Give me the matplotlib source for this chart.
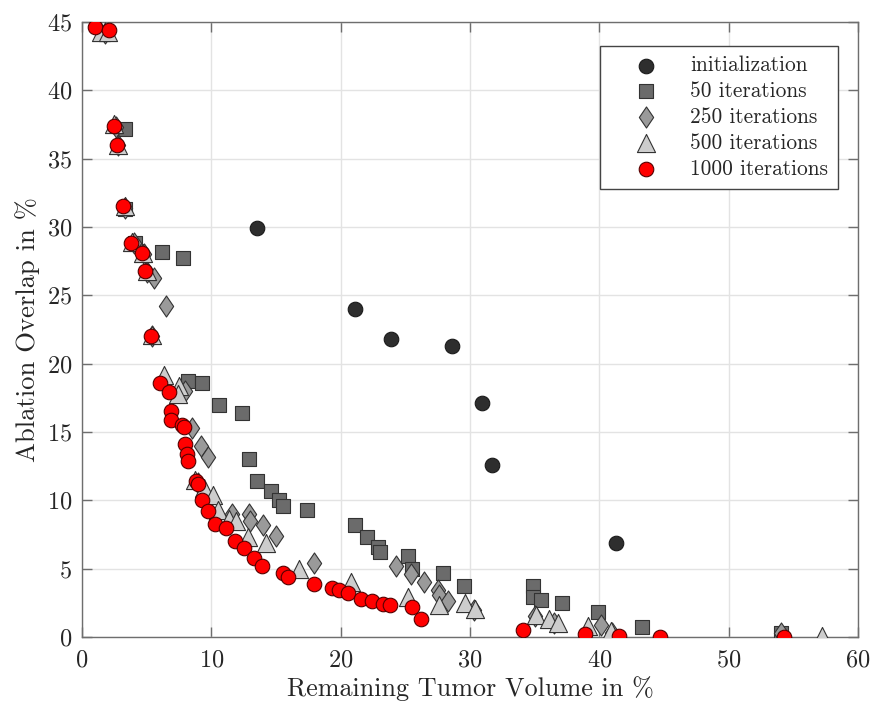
import matplotlib
matplotlib.use("Agg")
import matplotlib.pyplot as plt
from matplotlib.path import Path

plt.rcParams['font.family'] = ['cmr10', 'DejaVu Serif']
plt.rcParams['axes.formatter.use_mathtext'] = True
plt.rcParams['mathtext.fontset'] = 'cm'

# Remaining tumor volume (%) and ablation overlap (%) per optimisation stage
init_x = [13.5, 21.1, 23.9, 28.6, 30.9, 31.7, 41.3]
init_y = [29.9, 24.0, 21.8, 21.3, 17.1, 12.6, 6.9]

it50_x = [1.8, 3.3, 3.3, 4.1, 6.2, 7.8, 8.2, 9.3, 10.6, 12.4, 12.9, 13.5, 14.6, 15.25,
          15.5, 17.4, 21.1, 22.0, 22.9, 23.0, 25.2, 25.5, 27.9, 29.5, 34.9, 34.9,
          35.5, 37.1, 39.9, 43.3, 54.0]
it50_y = [44.2, 37.2, 31.3, 28.8, 28.2, 27.7, 18.7, 18.6, 17.0, 16.4, 13.0, 11.4, 10.7,
          10.0, 9.6, 9.3, 8.2, 7.35, 6.6, 6.2, 5.9, 5.0, 4.7, 3.75, 3.7, 2.9,
          2.7, 2.5, 1.8, 0.7, 0.3]

it250_x = [1.8, 2.6, 2.8, 3.3, 4.0, 4.8, 5.0, 5.6, 6.5, 5.4, 8.0, 8.5, 9.2, 9.75, 9.0,
           11.6, 12.9, 13.0, 14.0, 15.0, 17.9, 24.3, 25.4, 26.4, 27.5, 27.6, 28.3,
           30.3, 35.0, 36.5, 40.1, 41.0, 54.0]
it250_y = [44.2, 37.3, 36.0, 31.4, 28.8, 28.0, 26.7, 26.3, 24.2, 22.0, 18.0, 15.3, 14.0,
           13.2, 11.3, 9.0, 9.0, 8.5, 8.2, 7.4, 5.4, 5.2, 4.6, 4.0, 3.4, 3.1, 2.6,
           2.0, 1.5, 1.0, 0.9, 0.3, 0.3]

it500_x = [1.5, 2.0, 2.5, 2.8, 3.3, 3.9, 4.7, 5.0, 5.4, 6.35, 7.5, 7.4, 8.7, 9.4, 10.1,
           10.5, 11.4, 11.9, 12.8, 14.2, 16.8, 20.8, 25.2, 27.6, 29.6, 30.4, 35.1,
           36.1, 36.8, 39.1, 40.9, 57.2]
it500_y = [44.3, 44.3, 37.5, 36.0, 31.5, 28.9, 28.1, 26.8, 22.1, 19.2, 18.4, 17.8, 11.5,
           10.9, 10.4, 9.3, 8.6, 8.5, 7.3, 6.9, 5.0, 4.0, 2.9, 2.35, 2.5, 2.05, 1.6,
           1.3, 1.05, 0.8, 0.45, 0.1]

it1000_x = [1.0, 2.1, 2.5, 2.7, 3.2, 3.8, 4.6, 4.9, 5.3, 6.0, 6.7, 6.9, 6.9, 7.7, 7.9,
            8.0, 8.1, 8.2, 8.8, 9.0, 9.3, 9.75, 10.3, 11.1, 11.8, 12.5, 13.3, 13.9,
            15.5, 15.9, 17.9, 19.3, 19.9, 20.6, 21.6, 22.4, 23.3, 23.8, 25.5, 26.2,
            34.1, 38.9, 41.5, 44.7, 54.3]
it1000_y = [44.6, 44.4, 37.4, 36.0, 31.5, 28.8, 28.1, 26.8, 22.0, 18.6, 17.9, 16.5, 15.9,
            15.5, 15.4, 14.1, 13.4, 12.9, 11.4, 11.2, 10.0, 9.2, 8.3, 8.0, 7.05, 6.5,
            5.8, 5.2, 4.7, 4.4, 3.9, 3.6, 3.4, 3.2, 2.8, 2.6, 2.4, 2.35, 2.2, 1.3,
            0.5, 0.25, 0.05, 0.0, 0.0]

labels = ["initialization", "50 iterations", "250 iterations", "500 iterations",
          "1000 iterations"]

# tall diamond marker
diamond = Path([(0, 1), (0.68, 0), (0, -1), (-0.68, 0), (0, 1)],
               [Path.MOVETO, Path.LINETO, Path.LINETO, Path.LINETO, Path.CLOSEPOLY])

fig = plt.figure(figsize=(8.77, 7.09), dpi=100)
ax = fig.add_axes([0.0935, 0.1016, 0.885, 0.8674])

edge = '#333333'
ax.scatter(init_x, init_y, s=110, marker='o', color='#2e2e2e', edgecolor='#1a1a1a',
           linewidth=0.8, label=labels[0], zorder=3)
ax.scatter(it50_x, it50_y, s=95, marker='s', color='#6b6b6b', edgecolor=edge,
           linewidth=0.8, label=labels[1], zorder=3)
ax.scatter(it250_x, it250_y, s=230, marker=diamond, color='#9a9a9a', edgecolor=edge,
           linewidth=0.8, label=labels[2], zorder=3)
ax.scatter(it500_x, it500_y, s=170, marker='^', color='#cdcdcd', edgecolor=edge,
           linewidth=0.8, label=labels[3], zorder=3)
ax.scatter(it1000_x, it1000_y, s=110, marker='o', color='#ff0000', edgecolor='#550000',
           linewidth=0.8, label=labels[4], zorder=3)

ax.set_xlim(0, 60)
ax.set_ylim(0, 45)
ax.set_xticks(range(0, 61, 10))
ax.set_yticks(range(0, 46, 5))
ax.grid(True, color='#e3e3e3', linewidth=1.0, zorder=0)
ax.set_axisbelow(True)
for sp in ax.spines.values():
    sp.set_color('#6e6e6e')
    sp.set_linewidth(1.0)
ax.tick_params(direction='in', length=7, width=1.0, color='#6e6e6e',
               labelsize=17.5, labelcolor='#262626', top=True, right=True)
ax.tick_params(axis='x', pad=9)
ax.tick_params(axis='y', pad=7)

ax.set_xlabel("Remaining Tumor Volume in %", fontsize=18.8, color='#262626', labelpad=3)
ax.set_ylabel("Ablation Overlap in %", fontsize=19.2, color='#262626', labelpad=5)

leg = ax.legend(loc='upper right', bbox_to_anchor=(0.9735, 0.961), fontsize=15.4,
                frameon=True, fancybox=False, edgecolor='#444444', framealpha=1,
                borderpad=0.45, labelspacing=0.3, handlelength=3.4, handletextpad=0.35,
                scatterpoints=1, borderaxespad=0)
leg.get_frame().set_linewidth(1.0)
for t in leg.get_texts():
    t.set_color('#262626')

fig.savefig("out.png", dpi=100)
